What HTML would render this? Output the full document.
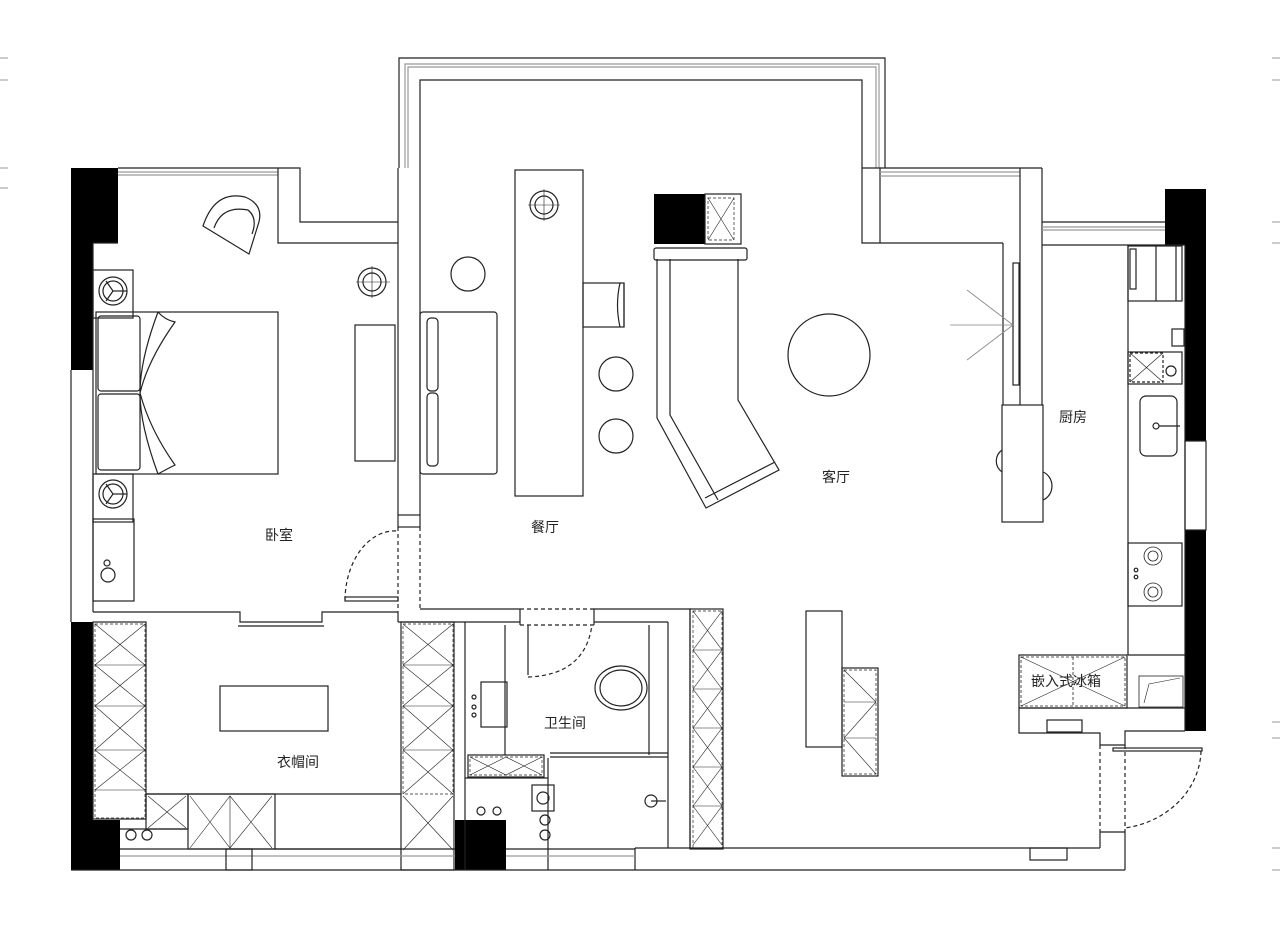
<!DOCTYPE html>
<html><head><meta charset="utf-8"><style>
html,body{margin:0;padding:0;background:#fff;}
svg{display:block}
text{font-family:"Liberation Sans","Noto Sans CJK SC",sans-serif;font-size:14px;fill:#222}
</style></head><body>
<svg width="1280" height="939" viewBox="0 0 1280 939" xmlns="http://www.w3.org/2000/svg">
<g fill="none" stroke="#222" stroke-width="1.2">
<g fill="#000" stroke="none">
<rect x="71" y="168" width="47" height="75"/>
<rect x="71" y="168" width="22" height="202"/>
<rect x="71" y="622" width="22" height="248"/>
<rect x="71" y="820" width="49" height="50"/>
<rect x="455" y="820" width="51" height="50"/>
<rect x="654" y="194" width="51" height="50"/>
<rect x="1165" y="189" width="41" height="56"/>
<rect x="1185" y="189" width="21" height="252"/>
<rect x="1185" y="530" width="21" height="201"/>
</g>
<rect x="1185" y="441" width="21" height="89"/>
<line x1="71" y1="370" x2="71" y2="622"/>
<line x1="71" y1="870" x2="635" y2="870"/>
<line x1="635" y1="870" x2="635" y2="848"/>
<line x1="635" y1="848" x2="1100" y2="848"/>
<line x1="635" y1="870" x2="1125" y2="870"/>
<line x1="1125" y1="870" x2="1125" y2="848"/>
<line x1="1100" y1="848" x2="1100" y2="832"/><line x1="1100" y1="832" x2="1125" y2="832"/><line x1="1125" y1="832" x2="1125" y2="848"/>
<line x1="118" y1="168" x2="278" y2="168"/>
<line x1="118" y1="172" x2="278" y2="172" stroke="#999"/>
<line x1="118" y1="175" x2="278" y2="175" stroke="#999"/>
<polyline points="278,168 300,168 300,222 398,222"/>
<polyline points="278,168 278,243 398,243"/>
<line x1="93" y1="243" x2="118" y2="243"/>
<line x1="93" y1="243" x2="93" y2="612"/>
<polyline points="93,612 240,612 240,622 322,622 322,612 398,612"/>
<line x1="238" y1="626" x2="324" y2="626"/>
<line x1="398" y1="168" x2="398" y2="515"/>
<line x1="420" y1="168" x2="420" y2="515"/>
<rect x="398" y="515" width="22" height="12"/>
<line x1="398" y1="527" x2="398" y2="612" stroke-dasharray="4 3"/>
<line x1="420" y1="527" x2="420" y2="609" stroke-dasharray="4 3"/>
<path d="M345,600 A50,70 0 0 1 398,531" stroke-dasharray="4 3"/>
<rect x="345" y="597" width="53" height="4"/>
<line x1="420" y1="609" x2="520" y2="609"/>
<polyline points="399,168 399,58 885,58 885,168"/>
<polyline points="405,168 405,64 879,64 879,168" stroke="#999"/>
<polyline points="408,168 408,67 876,67 876,168" stroke="#999"/>
<polyline points="420,168 420,80 862,80 862,243 1003,243"/>
<polyline points="862,168 880,168 880,243"/>
<line x1="880" y1="168" x2="1020" y2="168"/>
<line x1="880" y1="172" x2="1020" y2="172" stroke="#999"/>
<line x1="880" y1="176" x2="1020" y2="176" stroke="#999"/>
<line x1="1020" y1="168" x2="1042" y2="168"/>
<line x1="1003" y1="243" x2="1003" y2="405"/>
<line x1="1020" y1="168" x2="1020" y2="405"/>
<line x1="1042" y1="168" x2="1042" y2="405"/>
<rect x="1013" y="263" width="6" height="122"/>
<line x1="1013" y1="325" x2="967" y2="290" stroke="#888" stroke-width="0.8"/>
<line x1="1013" y1="325" x2="950" y2="325" stroke="#888" stroke-width="0.8"/>
<line x1="1013" y1="325" x2="967" y2="360" stroke="#888" stroke-width="0.8"/>
<rect x="1002" y="405" width="41" height="117"/>
<path d="M1002,450 A15,14 0 0 0 1002,472"/>
<path d="M1043,472 A14,15 0 0 1 1043,500"/>
<line x1="1042" y1="222" x2="1165" y2="222"/>
<line x1="1042" y1="227" x2="1165" y2="227" stroke="#999"/>
<line x1="1042" y1="230" x2="1165" y2="230" stroke="#999"/>
<line x1="1042" y1="245" x2="1185" y2="245"/>
<line x1="1185" y1="245" x2="1185" y2="731"/>
<line x1="1128" y1="245" x2="1128" y2="655"/>
<rect x="1128" y="246" width="54" height="55"/>
<line x1="1156" y1="246" x2="1156" y2="301"/><line x1="1176" y1="246" x2="1176" y2="301"/>
<rect x="1130" y="249" width="6" height="40"/>
<rect x="1172" y="329" width="12" height="17"/>
<rect x="1128" y="352" width="54" height="32"/>
<rect x="1130" y="353" width="33" height="29" stroke-dasharray="3 2"/>
<line x1="1130" y1="353" x2="1163" y2="382" stroke-width="0.7"/><line x1="1163" y1="353" x2="1130" y2="382" stroke-width="0.7"/>
<circle cx="1171" cy="371" r="5"/>
<rect x="1140" y="396" width="37" height="60" rx="6"/>
<circle cx="1156" cy="426" r="3"/><line x1="1159" y1="426" x2="1180" y2="426"/>
<rect x="1128" y="543" width="54" height="63"/>
<circle cx="1153" cy="556" r="9" stroke-width="0.8"/><circle cx="1153" cy="556" r="5" stroke-width="0.8"/>
<circle cx="1153" cy="592" r="9" stroke-width="0.8"/><circle cx="1153" cy="592" r="5" stroke-width="0.8"/>
<circle cx="1136" cy="570" r="1.8"/><circle cx="1136" cy="577" r="1.8"/>
<line x1="1128" y1="655" x2="1185" y2="655"/>
<rect x="1019" y="655" width="108" height="53"/>
<rect x="1021" y="657" width="104" height="49" stroke-dasharray="3 2" stroke-width="0.8"/>
<line x1="1073" y1="657" x2="1073" y2="706" stroke-dasharray="3 2" stroke-width="0.8"/>
<path d="M1021,657 L1125,706 M1125,657 L1021,706" stroke-width="0.6"/>
<rect x="1139" y="676" width="44" height="31" stroke-width="0.8"/>
<polyline points="1144,703 1149,684 1180,678" stroke-width="0.6"/>
<line x1="1019" y1="708" x2="1185" y2="708"/>
<polyline points="1019,708 1019,733 1100,733 1100,745 1125,745 1125,731 1185,731"/>
<rect x="1047" y="720" width="35" height="12"/>
<rect x="1030" y="848" width="37" height="12"/>
<line x1="1100" y1="745" x2="1100" y2="832" stroke-dasharray="4 3"/>
<line x1="1125" y1="745" x2="1125" y2="832" stroke-dasharray="4 3"/>
<rect x="1113" y="748" width="89" height="3"/>
<path d="M1201,751 A90,80 0 0 1 1125,828" stroke-dasharray="4 3"/>
<path d="M203,226 Q215,190 245,197 Q265,205 258,225 L249,254 Z"/>
<path d="M214,228 Q222,205 248,210 Q258,218 252,234"/>
<rect x="93" y="270" width="40" height="48"/>
<circle cx="113" cy="291" r="14"/><circle cx="113" cy="291" r="10"/>
<line x1="113" y1="291" x2="127" y2="291"/><line x1="113" y1="291" x2="106" y2="281"/><line x1="113" y1="291" x2="106" y2="301"/>
<rect x="93" y="474" width="40" height="48"/>
<circle cx="113" cy="494" r="14"/><circle cx="113" cy="494" r="10"/>
<line x1="113" y1="494" x2="127" y2="494"/><line x1="113" y1="494" x2="106" y2="484"/><line x1="113" y1="494" x2="106" y2="504"/>
<rect x="96" y="312" width="182" height="162"/>
<rect x="98" y="316" width="42" height="75" rx="3"/>
<rect x="98" y="394" width="42" height="76" rx="3"/>
<path d="M158,312 Q140,360 140,393 Q140,425 158,474 M158,312 Q165,320 175,322 Q148,360 140,393 Q150,430 175,465 Q165,470 158,474"/>
<rect x="93" y="519" width="41" height="82"/>
<circle cx="107" cy="563" r="3"/><circle cx="108" cy="575" r="7"/>
<circle cx="372" cy="282" r="14"/><circle cx="372" cy="282" r="9"/>
<line x1="356" y1="282" x2="390" y2="282" stroke-width="0.6"/><line x1="372" y1="266" x2="372" y2="298" stroke-width="0.6"/>
<rect x="355" y="325" width="40" height="136"/>
<rect x="515" y="170" width="68" height="326"/>
<circle cx="544" cy="205" r="14"/><circle cx="544" cy="205" r="9"/>
<line x1="528" y1="205" x2="560" y2="205" stroke-width="0.6"/><line x1="544" y1="189" x2="544" y2="221" stroke-width="0.6"/>
<rect x="583" y="283" width="41" height="44"/>
<path d="M620,283 Q615,305 620,327 M624,283 L624,327"/>
<circle cx="468" cy="274" r="17"/>
<circle cx="616" cy="374" r="17"/>
<circle cx="616" cy="436" r="17"/>
<rect x="420" y="312" width="77" height="162" rx="3"/>
<rect x="427" y="318" width="11" height="73" rx="4"/>
<rect x="427" y="393" width="11" height="73" rx="4"/>
<rect x="705" y="194" width="36" height="50"/>
<rect x="708" y="198" width="26" height="42" stroke-dasharray="3 2" stroke-width="0.7"/>
<path d="M708,198 L734,240 M734,198 L708,240" stroke-width="0.6"/>
<rect x="654" y="248" width="93" height="12" rx="2"/>
<polyline points="657,259 657,418 706,508 779,470 738,400 738,259"/>
<polyline points="670,259 670,415 718,500"/>
<line x1="705" y1="498" x2="775" y2="462"/>
<circle cx="829" cy="355" r="41"/>
<rect x="806" y="611" width="36" height="136"/>
<rect x="842" y="668" width="36" height="108"/>
<rect x="844" y="670" width="32" height="104" stroke-dasharray="3 2" stroke-width="0.7"/>
<path d="M844,670 L876,702 L844,738 L876,774 M844,702 L876,702 M844,738 L876,738" stroke-width="0.6"/>
<polyline points="594,625 594,609 690,609 690,848"/>
<line x1="520" y1="609" x2="520" y2="625"/>
<line x1="520" y1="609" x2="594" y2="609" stroke-dasharray="4 3"/>
<line x1="520" y1="625" x2="594" y2="625" stroke-dasharray="4 3"/>
<polyline points="465,622 465,870"/>
<line x1="398" y1="622" x2="520" y2="622"/><line x1="398" y1="622" x2="398" y2="612"/>
<line x1="594" y1="622" x2="668" y2="622"/>
<line x1="668" y1="622" x2="668" y2="848"/>
<line x1="528" y1="625" x2="528" y2="675"/>
<path d="M528,677 Q585,675 592,625" stroke-dasharray="4 3"/>
<line x1="649" y1="625" x2="649" y2="755"/>
<line x1="505" y1="625" x2="505" y2="755"/>
<line x1="550" y1="753" x2="668" y2="753"/><line x1="550" y1="757" x2="668" y2="757"/>
<rect x="481" y="682" width="26" height="45"/>
<circle cx="474" cy="697" r="2"/><circle cx="474" cy="707" r="2"/><circle cx="474" cy="715" r="2"/>
<ellipse cx="621" cy="688" rx="26" ry="22"/><ellipse cx="621" cy="688" rx="21" ry="18"/>
<rect x="468" y="755" width="76" height="22"/>
<rect x="470" y="757" width="72" height="18" stroke-dasharray="3 2" stroke-width="0.7"/>
<path d="M470,757 L506,775 L542,757 M470,775 L506,757 L542,775" stroke-width="0.6"/>
<polyline points="465,778 548,778 548,758"/>
<rect x="532" y="785" width="22" height="26"/><circle cx="543" cy="798" r="6"/>
<circle cx="545" cy="820" r="5"/><circle cx="545" cy="835" r="5"/>
<circle cx="481" cy="811" r="4"/><circle cx="497" cy="811" r="4"/>
<line x1="548" y1="778" x2="548" y2="870"/>
<circle cx="651" cy="801" r="6"/><line x1="651" y1="801" x2="666" y2="801"/>
<rect x="690" y="609" width="33" height="240"/>
<rect x="693" y="611" width="29" height="237" stroke-dasharray="3 2" stroke-width="0.7"/>
<path d="M693,611 L722,650 L693,689 L722,728 L693,767 L722,806 L693,845 M722,611 L693,650 L722,689 L693,728 L722,767 L693,806 L722,845 M693,650 H722 M693,689 H722 M693,728 H722 M693,767 H722 M693,806 H722" stroke-width="0.6"/>
<rect x="93" y="622" width="53" height="197"/>
<rect x="95" y="624" width="50" height="194" stroke-dasharray="3 2" stroke-width="0.7"/>
<path d="M95,624 L145,665 L95,706 L145,750 L95,790 M145,624 L95,665 L145,706 L95,750 L145,790 M95,665 H145 M95,706 H145 M95,750 H145 M95,790 H145" stroke-width="0.6"/>
<rect x="401" y="622" width="53" height="248"/>
<rect x="403" y="624" width="50" height="170" stroke-dasharray="3 2" stroke-width="0.7"/>
<path d="M403,624 L453,665 L403,706 L453,750 L403,794 M453,624 L403,665 L453,706 L403,750 L453,794 M403,665 H453 M403,706 H453 M403,750 H453" stroke-width="0.6"/>
<path d="M403,796 L453,850 M453,796 L403,850" stroke-width="0.6"/>
<line x1="146" y1="794" x2="401" y2="794"/>
<rect x="146" y="794" width="42" height="35"/>
<path d="M148,796 L186,828 M186,796 L148,828" stroke-width="0.6"/>
<rect x="188" y="794" width="87" height="55"/>
<path d="M190,796 L230,848 L272,796 M190,848 L230,796 L272,848 M230,796 V848" stroke-width="0.6"/>
<line x1="275" y1="849" x2="401" y2="849"/>
<rect x="220" y="686" width="108" height="45"/>
<line x1="120" y1="829" x2="188" y2="829"/>
<circle cx="131" cy="835" r="5"/><circle cx="147" cy="835" r="5"/>
<line x1="120" y1="849" x2="455" y2="849"/>
<line x1="120" y1="856" x2="455" y2="856" stroke="#999"/>
<rect x="226" y="849" width="26" height="21"/>
<line x1="506" y1="849" x2="635" y2="849"/>
<line x1="506" y1="856" x2="635" y2="856" stroke="#999"/>
</g>
<text x="265" y="540">卧室</text>
<text x="531" y="532">餐厅</text>
<text x="822" y="482">客厅</text>
<text x="1059" y="422">厨房</text>
<text x="544" y="728">卫生间</text>
<text x="277" y="767">衣帽间</text>
<text x="1031" y="686">嵌入式冰箱</text>
<g stroke="#999" stroke-width="1">
<line x1="0" y1="58" x2="8" y2="58"/><line x1="0" y1="80" x2="8" y2="80"/>
<line x1="0" y1="168" x2="8" y2="168"/><line x1="0" y1="188" x2="8" y2="188"/>
<line x1="1272" y1="58" x2="1280" y2="58"/><line x1="1272" y1="80" x2="1280" y2="80"/>
<line x1="1272" y1="222" x2="1280" y2="222"/><line x1="1272" y1="243" x2="1280" y2="243"/>
<line x1="1272" y1="722" x2="1280" y2="722"/><line x1="1272" y1="738" x2="1280" y2="738"/>
<line x1="1272" y1="848" x2="1280" y2="848"/><line x1="1272" y1="870" x2="1280" y2="870"/>
</g>
</svg>
</body></html>
